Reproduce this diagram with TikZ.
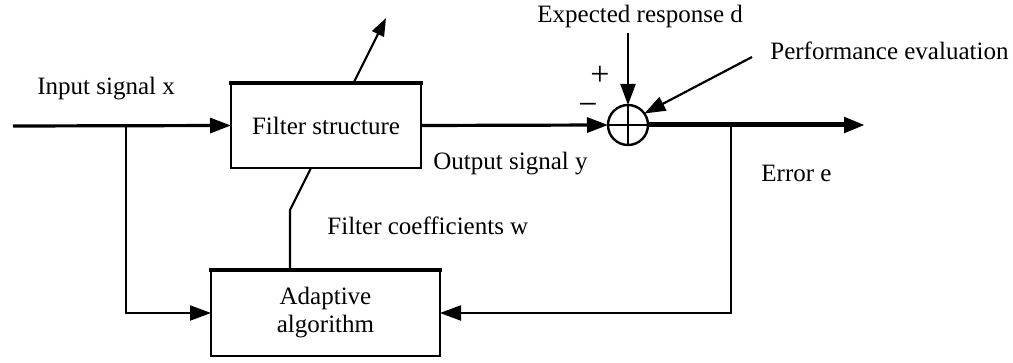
\documentclass[tikz,border=0pt]{standalone}
\usepackage{fontspec}
\setmainfont{Liberation Serif}
\usetikzlibrary{arrows.meta,backgrounds}
\begin{document}
\begin{tikzpicture}[x=0.5pt,y=-0.5pt,font=\fontsize{12.5}{14}\selectfont,
  blk/.style={draw, line width=1.3pt, fill=white, outer sep=0pt, inner sep=0pt, align=center},
  sumnode/.style={circle, draw, line width=1.2pt, fill=white, outer sep=0pt, inner sep=0pt, minimum size=20pt},
  lbl/.style={anchor=base west, inner sep=0pt},
  sgn/.style={inner sep=0pt, font=\fontsize{17}{18}\selectfont},
  tip/.style={-{Triangle[length=10.5pt,width=7.5pt]}},
  thinline/.style={line width=1.1pt},
  mainline/.style={line width=1.6pt},
  outline/.style={line width=2.5pt}]
\useasboundingbox (0,0) rectangle (1013,363);
% blocks
\node[blk, minimum width=95pt, minimum height=42.5pt] (filt) at (326,125.5) {Filter structure};
\node[blk, minimum width=114.5pt, minimum height=43pt] (adap) at (325.5,313) {Adaptive\\algorithm};
\draw[line width=2.3pt, line cap=rect] (filt.north west) -- (filt.north east);
\draw[line width=2.3pt, line cap=rect] (adap.north west) -- (adap.north east);
\node[sumnode] (sum) at (628,125) {};
\draw[line width=1.1pt] (sum.west) -- (sum.east) (sum.north) -- (sum.south);
% free ends
\coordinate (xin) at (13,126);
\coordinate (xbr) at (126,126);
\coordinate (yout) at (865,125);
\coordinate (ebr) at (731,125);
\coordinate (dtop) at (628,33);
\coordinate (ptail) at (752,57);
\coordinate (wbend) at (290,210);
\coordinate (wtip) at (386,18);
% labels
\node[lbl] (xlab) at (37,95) {Input signal x};
\node[lbl] (dlab) at (537,23) {Expected response d};
\node[lbl] (plab) at (770,60) {Performance evaluation};
\node[lbl] (ylab) at (433,170) {Output signal y};
\node[lbl] (elab) at (761,182) {Error e};
\node[lbl] (wlab) at (327,235) {Filter coefficients w};
\node[sgn] (plus) at (600,76) {+};
\node[sgn] (minus) at (588,109) {−};
% connectors
\draw[mainline, tip] (xin) -- (filt.west);
\draw[thinline, tip] (xbr) |- (adap.west);
\draw[mainline, tip] (filt.east) -- (sum.west);
\draw[outline, tip] (sum.east) -- (yout);
\draw[thinline, tip] (ebr) |- (adap.east);
\draw[thinline, tip] (dtop) -- (sum.north);
\draw[thinline, tip] (ptail) -- (sum.35);
\begin{pgfonlayer}{background}
\draw[thinline, -{Triangle[length=9pt,width=6.5pt]}] (adap.north -| wbend) -- (wbend) -- (wtip);
\end{pgfonlayer}
\end{tikzpicture}
\end{document}
